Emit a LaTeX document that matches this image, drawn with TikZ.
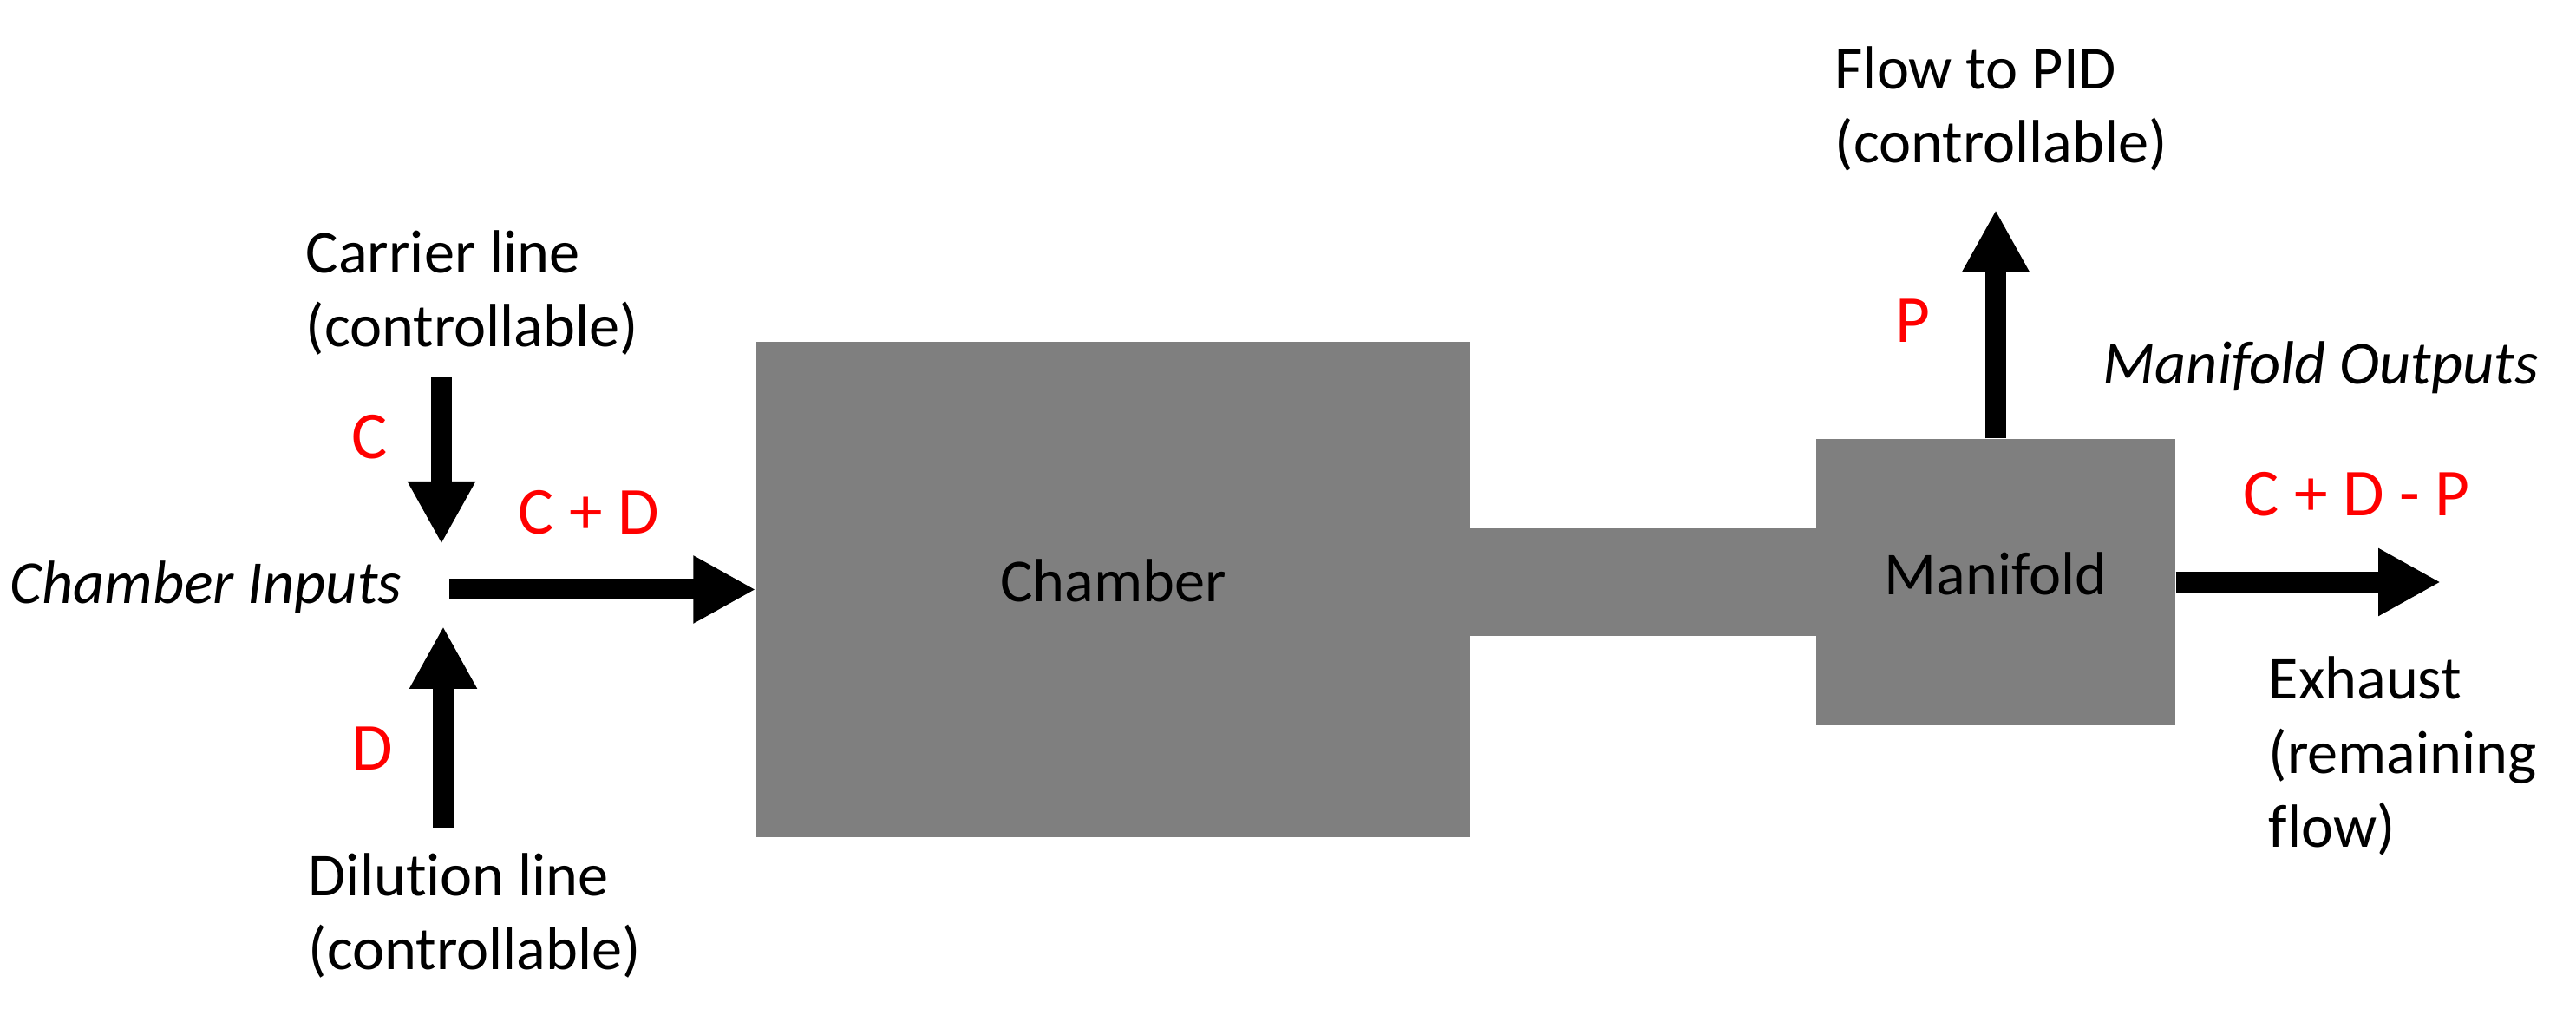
\documentclass[tikz,border=0pt]{standalone}
\usepackage{xcolor}
\usepackage{fontspec}
\setmainfont{Carlito}[Ligatures = NoCommon]
\usetikzlibrary{arrows.meta}

\definecolor{boxgray}{RGB}{127,127,127}

\tikzset{
	box/.style = {fill = boxgray, inner sep = 0pt, text depth = 2mm, font = \fontsize{20}{24.4}\selectfont},
	flow/.style = {line width = 2.4mm, -{Triangle[width = 7.3mm, length = 7.2mm]}},
	note/.style = {align = left, anchor = base west, inner sep = 0pt, font = \fontsize{20}{24.4}\selectfont},
	rate/.style = {text = red, anchor = base west, inner sep = 0pt, font = \fontsize{22}{26}\selectfont}
}

\begin{document}
\begin{tikzpicture}
			\useasboundingbox (0, 0) rectangle (29.70, 11.78);
			\node[box, minimum width = 4.05cm, minimum height = 1.24cm] (pipe) at (18.945, 5.07) {};
			\node[box, minimum width = 8.23cm, minimum height = 5.71cm] (chamber) at (12.835, 4.985) {Chamber};
			\node[box, minimum width = 4.14cm, minimum height = 3.30cm] (manifold) at (23.01, 5.07) {Manifold};
			\coordinate (carrier in) at (5.09, 7.43);
			\coordinate (carrier out) at (5.09, 5.51);
			\coordinate (dilution in) at (5.11, 2.24);
			\coordinate (dilution out) at (5.11, 4.56);
			\coordinate (mix) at (5.18, 4.985);
			\coordinate (to pid) at (23.01, 9.36);
			\coordinate (to exhaust) at (28.14, 5.07);
			\draw[flow] (carrier in) -- (carrier out);
			\draw[flow] (dilution in) -- (dilution out);
			\draw[flow] (mix) -- (chamber.west);
			\draw[flow] (manifold.north) -- (to pid);
			\draw[flow] (manifold.east) -- (to exhaust);
			\node[note] (carrier) at (3.52, 7.78) {Carrier line\\(controllable)};
			\node[note] (dilution) at (3.55, 0.60) {Dilution line\\(controllable)};
			\node[note] (pid) at (21.15, 9.90) {Flow to PID\\(controllable)};
			\node[note] (exhaust) at (26.15, 2.01) {Exhaust\\(remaining\\flow)};
			\node[note, font = \fontsize{20}{24.4}\selectfont\itshape] (inputs) at (0.11, 4.82) {Chamber Inputs};
			\node[note, font = \fontsize{20}{24.4}\selectfont\itshape] (outputs) at (24.24, 7.35) {Manifold Outputs};
			\node[rate] (c) at (4.05, 6.49) {C};
			\node[rate] (cd) at (5.97, 5.62) {C + D};
			\node[rate] (d) at (4.05, 2.90) {D};
			\node[rate] (p) at (21.85, 7.83) {P};
			\node[rate] (cdp) at (25.86, 5.83) {C + D - P};
		\end{tikzpicture}
\end{document}
